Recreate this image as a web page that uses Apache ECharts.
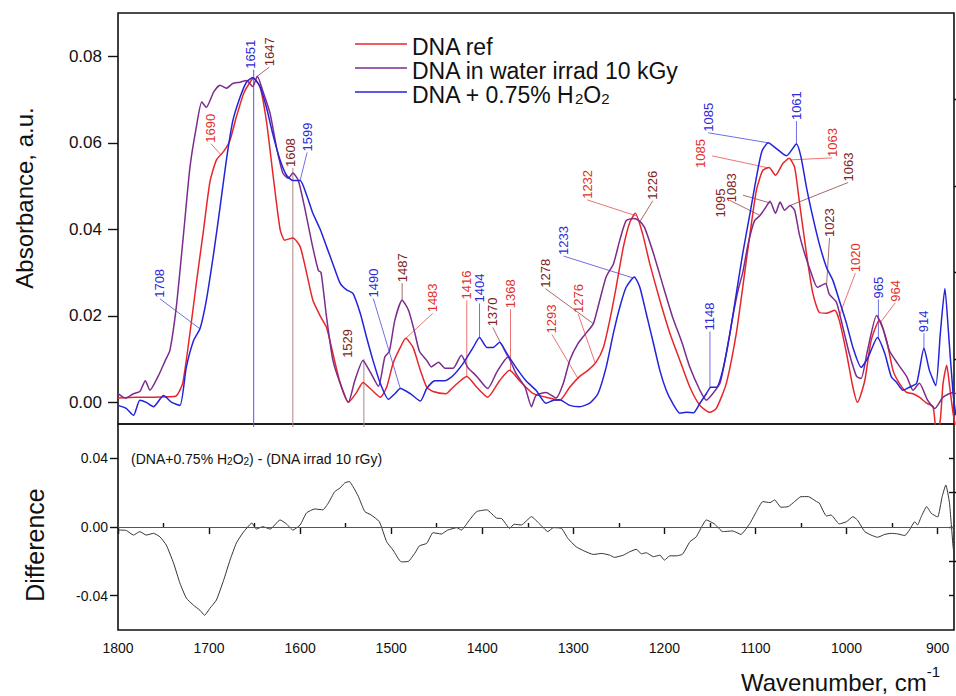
<!DOCTYPE html>
<html>
<head>
<meta charset="utf-8">
<title>FTIR DNA spectra</title>
<script src="https://cdn.jsdelivr.net/npm/echarts@6/dist/echarts.min.js"></script>
<style>
  html, body { margin: 0; padding: 0; background: #fff; }
  #chart { width: 956px; height: 696px; }
</style>
</head>
<body>
<div id="chart"></div>
<script>
// ---- spectra (wavenumber, cm-1 -> absorbance) ----
const refWn = [1800,1780,1760,1745,1736,1729,1721,1714,1706,1699,
  1692,1684,1677,1670,1662,1655,1651,1644,1637,1630,
  1622,1617,1608,1600,1593,1586,1578,1571,1564,1556,
  1547,1538,1531,1523,1512,1505,1498,1490,1484,1476,
  1468,1461,1454,1440,1432,1417,1406,1394,1381,1370,
  1359,1344,1330,1315,1304,1293,1284,1275,1267,1260,
  1253,1245,1238,1232,1224,1216,1205,1194,1183,1172,
  1161,1150,1143,1132,1121,1114,1106,1099,1092,1085,
  1078,1070,1063,1057,1052,1044,1037,1030,1022,1013,
  1008,1000,993,988,980,973,964,956,949,942,
  934,927,920,912,905,901,897,894,890,887,
  883,880]
const refAbs = [0.0010,0.0012,0.0012,0.0013,0.0015,0.0044,0.0160,0.0275,0.0400,0.0510,
  0.0560,0.0580,0.0606,0.0660,0.0714,0.0740,0.0749,0.0729,0.0650,0.0530,
  0.0400,0.0375,0.0380,0.0360,0.0300,0.0236,0.0200,0.0173,0.0113,0.0044,
  0.0000,0.0023,0.0046,0.0032,0.0012,0.0035,0.0090,0.0127,0.0148,0.0127,
  0.0074,0.0035,0.0025,0.0020,0.0035,0.0060,0.0035,0.0012,0.0050,0.0074,
  0.0050,0.0020,0.0012,0.0005,0.0035,0.0060,0.0074,0.0093,0.0127,0.0190,
  0.0266,0.0360,0.0416,0.0437,0.0390,0.0320,0.0236,0.0160,0.0097,0.0035,
  -0.0007,-0.0023,-0.0014,0.0044,0.0160,0.0266,0.0390,0.0490,0.0536,0.0543,
  0.0525,0.0552,0.0564,0.0543,0.0467,0.0344,0.0252,0.0208,0.0206,0.0213,
  0.0190,0.0113,0.0035,0.0000,0.0050,0.0143,0.0190,0.0143,0.0074,0.0044,
  0.0023,0.0020,0.0012,-0.0002,-0.0010,-0.0080,-0.0040,0.0044,0.0086,0.0040,
  -0.0025,-0.0060]

const irrWn = [1800,1792,1783,1776,1770,1765,1756,1748,1743,1736,
  1728,1721,1714,1708,1703,1695,1688,1681,1674,1666,
  1659,1652,1647,1641,1633,1626,1619,1613,1608,1602,
  1595,1587,1580,1577,1571,1564,1556,1547,1540,1531,
  1523,1514,1507,1502,1496,1488,1481,1474,1469,1461,
  1456,1448,1441,1432,1423,1416,1406,1394,1384,1372,
  1363,1353,1346,1341,1330,1319,1311,1304,1295,1286,
  1278,1271,1264,1256,1249,1242,1234,1228,1222,1212,
  1201,1191,1181,1172,1161,1154,1147,1139,1132,1125,
  1119,1114,1108,1101,1095,1089,1084,1078,1073,1068,
  1062,1057,1052,1046,1039,1032,1023,1019,1011,1004,
  997,989,984,977,967,960,953,944,934,927,
  920,911,903,894,883,880]
const irrAbs = [0.0020,0.0010,0.0020,0.0025,0.0050,0.0028,0.0060,0.0097,0.0120,0.0220,
  0.0390,0.0543,0.0636,0.0694,0.0682,0.0717,0.0733,0.0726,0.0737,0.0740,
  0.0744,0.0730,0.0754,0.0720,0.0668,0.0590,0.0530,0.0518,0.0530,0.0513,
  0.0450,0.0367,0.0305,0.0300,0.0197,0.0097,0.0044,0.0000,0.0050,0.0097,
  0.0070,0.0037,0.0105,0.0118,0.0190,0.0236,0.0213,0.0160,0.0118,0.0097,
  0.0082,0.0093,0.0079,0.0079,0.0109,0.0081,0.0060,0.0032,0.0070,0.0104,
  0.0067,0.0035,-0.0010,0.0016,0.0023,0.0010,0.0044,0.0097,0.0136,0.0160,
  0.0182,0.0236,0.0290,0.0320,0.0375,0.0420,0.0425,0.0420,0.0405,0.0344,
  0.0266,0.0197,0.0140,0.0081,0.0028,0.0005,0.0020,0.0044,0.0113,0.0197,
  0.0260,0.0300,0.0367,0.0420,0.0432,0.0450,0.0465,0.0437,0.0463,0.0444,
  0.0455,0.0444,0.0390,0.0344,0.0300,0.0266,0.0275,0.0250,0.0231,0.0173,
  0.0113,0.0060,0.0055,0.0120,0.0201,0.0170,0.0120,0.0090,0.0060,0.0028,
  0.0044,0.0005,-0.0014,0.0012,0.0023,0.0020]

const h2o2Wn = [1800,1791,1783,1776,1769,1761,1750,1741,1732,1725,
  1717,1710,1703,1695,1688,1681,1674,1666,1659,1652,
  1644,1637,1630,1622,1615,1608,1600,1593,1586,1578,
  1571,1564,1556,1549,1542,1534,1527,1520,1512,1503,
  1496,1490,1479,1468,1461,1452,1441,1432,1421,1410,
  1403,1395,1388,1381,1373,1363,1352,1341,1330,1322,
  1315,1304,1293,1282,1273,1264,1256,1249,1242,1233,
  1227,1220,1212,1205,1198,1191,1183,1176,1168,1161,
  1154,1149,1143,1136,1128,1121,1114,1106,1099,1093,
  1086,1079,1066,1055,1050,1044,1037,1030,1022,1015,
  1008,1000,993,984,977,966,958,951,945,938,
  931,923,915,909,902,897,892,888,883,880]
const h2o2Abs = [-0.0007,-0.0014,-0.0030,0.0005,0.0000,-0.0010,0.0016,0.0000,-0.0007,0.0081,
  0.0143,0.0170,0.0236,0.0344,0.0450,0.0560,0.0650,0.0705,0.0740,0.0751,
  0.0729,0.0682,0.0620,0.0560,0.0525,0.0513,0.0513,0.0480,0.0437,0.0400,
  0.0360,0.0320,0.0275,0.0260,0.0252,0.0206,0.0150,0.0097,0.0044,0.0007,
  0.0020,0.0032,0.0020,0.0003,0.0032,0.0050,0.0050,0.0062,0.0090,0.0127,
  0.0150,0.0127,0.0127,0.0139,0.0113,0.0081,0.0050,0.0028,-0.0002,0.0005,
  0.0006,-0.0007,-0.0010,-0.0002,0.0020,0.0081,0.0160,0.0220,0.0266,0.0290,
  0.0266,0.0206,0.0136,0.0074,0.0028,-0.0002,-0.0025,-0.0023,-0.0024,-0.0002,
  0.0020,0.0035,0.0035,0.0074,0.0160,0.0252,0.0344,0.0437,0.0520,0.0580,
  0.0600,0.0590,0.0570,0.0597,0.0567,0.0497,0.0428,0.0367,0.0312,0.0282,
  0.0236,0.0182,0.0127,0.0081,0.0101,0.0150,0.0113,0.0060,0.0046,0.0028,
  0.0035,0.0044,0.0125,0.0074,0.0039,0.0160,0.0263,0.0160,0.0020,-0.0030]

// difference spectrum, lower panel
const diffWn = [1800,1791,1783,1776,1769,1761,1754,1747,1739,1732,
  1725,1717,1710,1705,1699,1692,1684,1677,1670,1663,
  1653,1648,1641,1633,1622,1615,1608,1600,1593,1584,
  1575,1569,1562,1556,1551,1546,1542,1536,1529,1522,
  1513,1505,1498,1489,1481,1474,1469,1461,1454,1445,
  1438,1428,1423,1414,1406,1395,1384,1379,1370,1365,
  1357,1346,1337,1328,1322,1313,1306,1297,1288,1278,
  1269,1260,1255,1245,1238,1231,1225,1220,1212,1205,
  1200,1194,1187,1180,1172,1165,1159,1154,1145,1136,
  1125,1116,1106,1099,1092,1084,1079,1072,1064,1057,
  1050,1042,1033,1030,1022,1017,1008,1000,993,988,
  980,973,966,958,951,944,936,931,925,922,
  918,912,907,900,895,891,887,883,881]
const diffVal = [-0.0018,-0.0020,-0.0047,-0.0027,-0.0047,-0.0037,-0.0057,-0.0105,-0.0210,-0.0327,
  -0.0414,-0.0456,-0.0485,-0.0514,-0.0473,-0.0426,-0.0310,-0.0193,-0.0093,-0.0035,
  0.0023,-0.0012,0.0002,-0.0012,0.0041,0.0018,-0.0018,0.0012,0.0082,0.0105,
  0.0100,0.0140,0.0206,0.0228,0.0257,0.0265,0.0236,0.0177,0.0090,0.0070,
  0.0031,-0.0086,-0.0134,-0.0203,-0.0200,-0.0152,-0.0110,-0.0095,-0.0033,-0.0041,
  -0.0018,-0.0004,-0.0018,0.0041,0.0090,0.0100,0.0051,0.0050,-0.0008,0.0016,
  0.0012,0.0060,0.0018,-0.0027,-0.0004,-0.0008,-0.0066,-0.0115,-0.0140,-0.0160,
  -0.0154,-0.0164,-0.0177,-0.0164,-0.0144,-0.0130,-0.0156,-0.0150,-0.0173,-0.0164,
  -0.0193,-0.0168,-0.0168,-0.0158,-0.0086,-0.0057,0.0002,0.0041,0.0018,-0.0027,
  -0.0023,-0.0043,0.0022,0.0090,0.0148,0.0142,0.0158,0.0115,0.0119,0.0148,
  0.0177,0.0177,0.0148,0.0140,0.0064,0.0070,0.0018,0.0031,0.0060,0.0040,
  -0.0027,-0.0047,-0.0060,-0.0043,-0.0037,-0.0040,-0.0050,-0.0018,0.0031,0.0012,
  0.0060,0.0119,0.0080,0.0058,0.0177,0.0245,0.0142,-0.0115,-0.0190]

// ---- peak labels: text, spectrum, wavenumber where the leader meets the curve ----
const peakText = ['1708','1690','1651','1647','1608','1599','1529','1490','1487','1483',
  '1416','1404','1370','1368','1293','1278','1276','1232','1226','1233',
  '1148','1085','1061','1085','1063','1095','1083','1063','1023','1020',
  '965','964','914']
const peakSeries = ['h2o2','ref','h2o2','irr','irr','h2o2','irr','h2o2','irr','ref',
  'ref','h2o2','irr','ref','ref','irr','ref','ref','irr','h2o2',
  'h2o2','h2o2','h2o2','ref','ref','irr','irr','irr','irr','ref',
  'h2o2','ref','h2o2']
const peakWn = [1710,1687,1651,1647,1608,1600,1530,1490,1488,1484,
  1417,1403,1372,1369,1295,1278,1276,1231,1227,1234,
  1150,1086,1055,1086,1062,1095,1083,1062,1022,1009,
  965,963,915]

// label layout (pixel shift from curve point to the label foot; optional leader end; drop line to axis)
const labelShift = [[-40,-30],[-10,-11],[-3,-9],[12,-9],[-2,-5],[7,-28],[-16,-3],[-27,-90],[0,-17],[27,-25],
  [0,-76],[0,-34],[-15,-30],[0,-62],[-26,-44],[-48,-35],[-17,-49],[-49,-16],[13,-21],[-70,-22],
  [0,-57],[-60,-10],[0,-23],[-68,1],[42,-2],[-40,3],[-39,0],[58,-23],[3,-48],[17,-45],
  [0,-40],[15,-20],[0,-15]]
const leaderEnd = { 23: [-56,-12], 25: [-30,-15], 26: [-28,-8] }
const dropToAxis = [2, 4, 6]

const colors = { ref: '#e8262a', irr: '#7b2c8c', h2o2: '#2323dc' }
const labelColors = { ref: '#e3302c', irr: '#7d2222', h2o2: '#2a2ad8' }
const FONT = '"Liberation Sans", Arial, Helvetica, sans-serif'
const Y_MIN = -0.005

const spectra = { ref: [refWn, refAbs], irr: [irrWn, irrAbs], h2o2: [h2o2Wn, h2o2Abs] }

function zip (xs, ys) { return xs.map((x, i) => [x, ys[i]]) }

function valueAt (key, w) {
  const [xs, ys] = spectra[key]
  for (let i = 0; i < xs.length - 1; i++) {
    if (w <= xs[i] && w >= xs[i + 1]) {
      const t = (xs[i] - w) / (xs[i] - xs[i + 1])
      return ys[i] + t * (ys[i + 1] - ys[i])
    }
  }
  return ys[ys.length - 1]
}

const peakData = peakText.map((t, i) => [peakWn[i], valueAt(peakSeries[i], peakWn[i]), i])

function renderPeak (params, api) {
  const i = api.value(2)
  const p = api.coord([api.value(0), api.value(1)])
  const s = labelShift[i]
  const a = [p[0] + s[0], p[1] + s[1]]
  const key = peakSeries[i]
  const col = labelColors[key]
  const children = []
  if (dropToAxis.includes(i)) {
    const bottom = api.coord([api.value(0), Y_MIN])[1] + 3
    children.push({
      type: 'line',
      shape: { x1: p[0], y1: a[1], x2: p[0], y2: bottom },
      style: { stroke: key === 'h2o2' ? '#5656e6' : '#b08484', lineWidth: 1 }
    })
  } else {
    const e = leaderEnd[i] ? [p[0] + leaderEnd[i][0], p[1] + leaderEnd[i][1]] : a
    children.push({
      type: 'line',
      shape: { x1: p[0], y1: p[1], x2: e[0], y2: e[1] },
      style: { stroke: col, lineWidth: 0.8, opacity: 0.85 }
    })
  }
  children.push({
    type: 'text',
    x: a[0],
    y: a[1] - 1,
    rotation: Math.PI / 2,
    style: {
      text: peakText[i],
      fill: col,
      font: '13px ' + FONT,
      align: 'left',
      verticalAlign: 'middle'
    }
  })
  return { type: 'group', children: children }
}

const chart = echarts.init(document.getElementById('chart'), null, { renderer: 'svg' })

const xTicks = [1800, 1700, 1600, 1500, 1400, 1300, 1200, 1100, 1000, 900]
const xMinor = [1750, 1650, 1550, 1450, 1350, 1250, 1150, 1050, 950]
const blackLine = { color: '#111', width: 1.4 }

const option = {
  animation: false,
  backgroundColor: '#fff',
  textStyle: { fontFamily: FONT },
  grid: [
    { left: 118, right: 2, top: 13, height: 411, show: true, borderColor: '#111', borderWidth: 1.6, backgroundColor: 'transparent' },
    { left: 118, right: 2, top: 424, height: 206, show: true, borderColor: '#111', borderWidth: 1.6, backgroundColor: 'transparent' }
  ],
  xAxis: [
    { gridIndex: 0, type: 'value', min: 882, max: 1800, inverse: true,
      axisLine: { show: false }, axisTick: { show: false }, axisLabel: { show: false }, splitLine: { show: false } },
    { gridIndex: 1, type: 'value', min: 882, max: 1800, inverse: true,
      axisLine: { show: false }, splitLine: { show: false },
      axisTick: { customValues: xTicks, length: 7, lineStyle: blackLine },
      axisLabel: { customValues: xTicks, margin: 11, fontSize: 14, color: '#111', fontFamily: FONT,
        formatter: v => String(Math.round(v)) } },
    { gridIndex: 1, type: 'value', min: 882, max: 1800, inverse: true,
      axisLine: { show: false }, splitLine: { show: false }, axisLabel: { show: false },
      axisTick: { customValues: xMinor, length: 4, lineStyle: blackLine } }
  ],
  yAxis: [
    { gridIndex: 0, type: 'value', min: Y_MIN, max: 0.09,
      axisLine: { show: false }, splitLine: { show: false },
      axisTick: { customValues: [0, 0.02, 0.04, 0.06, 0.08], length: 10, lineStyle: blackLine },
      axisLabel: { customValues: [0, 0.02, 0.04, 0.06, 0.08], margin: 16, fontSize: 17, color: '#111',
        fontFamily: FONT, formatter: v => v.toFixed(2) } },
    { gridIndex: 0, type: 'value', min: Y_MIN, max: 0.09,
      axisLine: { show: false }, splitLine: { show: false }, axisLabel: { show: false },
      axisTick: { customValues: [0.01, 0.03, 0.05, 0.07], length: 6, lineStyle: blackLine } },
    { gridIndex: 1, type: 'value', min: -0.06, max: 0.06,
      axisLine: { show: false }, splitLine: { show: false },
      axisTick: { customValues: [-0.04, 0, 0.04], length: 8, lineStyle: blackLine },
      axisLabel: { customValues: [-0.04, 0, 0.04], margin: 10, fontSize: 14, color: '#111',
        fontFamily: FONT, formatter: v => v.toFixed(2) } },
    { gridIndex: 1, type: 'value', min: -0.06, max: 0.06,
      axisLine: { show: false }, splitLine: { show: false }, axisLabel: { show: false },
      axisTick: { customValues: [-0.02, 0.02], length: 4, lineStyle: blackLine } },
    { gridIndex: 1, type: 'value', min: -0.06, max: 0.06, position: 'right',
      axisLine: { show: false }, splitLine: { show: false }, axisLabel: { show: false },
      axisTick: { inside: true, customValues: [-0.04, -0.02, 0, 0.02, 0.04], length: 5, lineStyle: blackLine } }
  ],
  legend: {
    orient: 'vertical',
    left: 350,
    top: 30,
    icon: 'rect',
    itemWidth: 52,
    itemHeight: 1.6,
    itemGap: 1,
    data: ['DNA ref', 'DNA in water irrad 10 kGy', 'DNA + 0.75% H2O2'],
    formatter: name => name === 'DNA + 0.75% H2O2'
      ? '{t|DNA + 0.75% H}{s|2}{t|O}{s|2}'
      : '{t|' + name + '}',
    textStyle: {
      color: '#111',
      rich: {
        t: { fontSize: 23, lineHeight: 28, fontFamily: FONT, color: '#111', verticalAlign: 'bottom' },
        s: { fontSize: 15, lineHeight: 15, fontFamily: FONT, color: '#111', verticalAlign: 'bottom' }
      }
    }
  },
  title: [
    {
      text: '{t|(DNA+0.75% H}{s|2}{t|O}{s|2}{t|) - (DNA irrad 10 rGy)}',
      left: 131, top: 448, padding: 0,
      textStyle: {
        fontWeight: 'normal',
        rich: {
          t: { fontSize: 14, lineHeight: 18, fontFamily: FONT, fontWeight: 'normal', color: '#111', verticalAlign: 'bottom' },
          s: { fontSize: 10, lineHeight: 10, fontFamily: FONT, fontWeight: 'normal', color: '#111', verticalAlign: 'bottom' }
        }
      }
    },
    {
      text: '{t|Wavenumber, cm}{p|-1}',
      left: 741, top: 664, padding: 0,
      textStyle: {
        fontWeight: 'normal',
        rich: {
          t: { fontSize: 24, lineHeight: 30, fontFamily: FONT, fontWeight: 'normal', color: '#111', verticalAlign: 'bottom' },
          p: { fontSize: 15, lineHeight: 15, fontFamily: FONT, fontWeight: 'normal', color: '#111', verticalAlign: 'top' }
        }
      }
    }
  ],
  graphic: [
    { type: 'text', x: 24, y: 198, rotation: Math.PI / 2,
      style: { text: 'Absorbance, a.u.', font: '24px ' + FONT, fill: '#111', align: 'center', verticalAlign: 'middle' } },
    { type: 'text', x: 35, y: 545, rotation: Math.PI / 2,
      style: { text: 'Difference', font: '25px ' + FONT, fill: '#111', align: 'center', verticalAlign: 'middle' } }
  ],
  series: [
    {
      name: 'DNA ref', type: 'line', xAxisIndex: 0, yAxisIndex: 0, z: 3,
      data: zip(refWn, refAbs), symbol: 'none', smooth: 0.2,
      lineStyle: { color: colors.ref, width: 1.5 }, itemStyle: { color: colors.ref }
    },
    {
      name: 'DNA in water irrad 10 kGy', type: 'line', xAxisIndex: 0, yAxisIndex: 0, z: 3,
      data: zip(irrWn, irrAbs), symbol: 'none', smooth: 0.2,
      lineStyle: { color: colors.irr, width: 1.5 }, itemStyle: { color: colors.irr }
    },
    {
      name: 'DNA + 0.75% H2O2', type: 'line', xAxisIndex: 0, yAxisIndex: 0, z: 3,
      data: zip(h2o2Wn, h2o2Abs), symbol: 'none', smooth: 0.2,
      lineStyle: { color: colors.h2o2, width: 1.5 }, itemStyle: { color: colors.h2o2 }
    },
    {
      name: 'peaks', type: 'custom', xAxisIndex: 0, yAxisIndex: 0, z: 2,
      coordinateSystem: 'cartesian2d', clip: false, silent: true,
      encode: { x: 0, y: 1 },
      data: peakData,
      renderItem: renderPeak
    },
    {
      name: 'difference', type: 'line', xAxisIndex: 1, yAxisIndex: 2,
      data: zip(diffWn, diffVal), symbol: 'none', smooth: 0.15,
      lineStyle: { color: '#333', width: 1 },
      markLine: {
        silent: true, symbol: 'none', label: { show: false },
        lineStyle: { color: '#555', width: 1.2, type: 'solid' },
        data: [{ yAxis: 0 }]
      }
    }
  ]
}

chart.setOption(option)
</script>
</body>
</html>
